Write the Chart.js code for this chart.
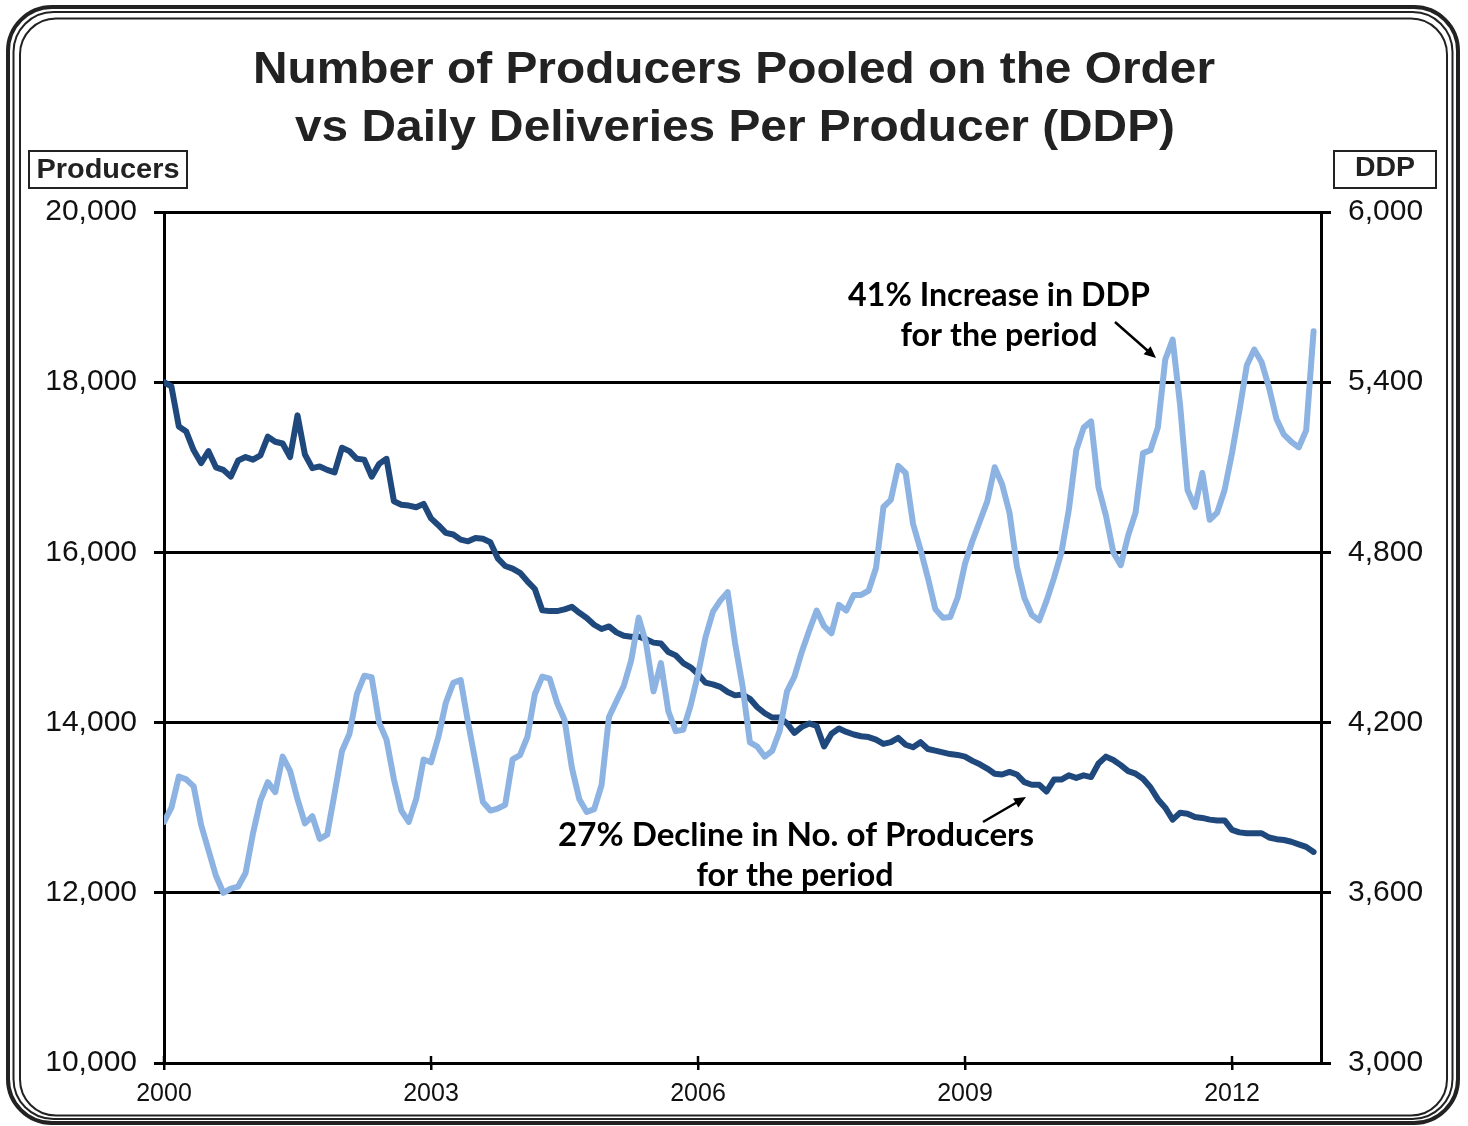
<!DOCTYPE html>
<html>
<head>
<meta charset="utf-8">
<script src="https://cdn.jsdelivr.net/npm/chart.js@4.4.1/dist/chart.umd.min.js"></script>
<style>
  html, body { margin: 0; padding: 0; background: #fff; }
  canvas { display: block; }
</style>
</head>
<body>
<canvas id="chart" width="1468" height="1126"></canvas>
<script>
// monthly values, Jan 2000 .. Dec 2012
const producers = [
  18000, 17950, 17480, 17420, 17200, 17050, 17190, 17000, 16970, 16890, 17080, 17120,
  17090, 17140, 17360, 17300, 17280, 17120, 17610, 17150, 16990, 17010, 16970, 16940,
  17230, 17190, 17100, 17090, 16890, 17040, 17100, 16600, 16560, 16550, 16530, 16570,
  16400, 16320, 16230, 16210, 16150, 16130, 16170, 16160, 16120, 15930, 15840, 15810,
  15760, 15660, 15570, 15320, 15310, 15310, 15330, 15360, 15290, 15230, 15150, 15100,
  15130, 15060, 15020, 15010, 15010, 14980, 14940, 14930, 14830, 14790, 14700, 14650,
  14570, 14470, 14450, 14420, 14360, 14320, 14330, 14280, 14180, 14110, 14060, 14060,
  13990, 13880, 13950, 13990, 13960, 13720, 13870, 13930, 13890, 13860, 13840, 13830,
  13800, 13750, 13770, 13820, 13740, 13710, 13770, 13690, 13670, 13650, 13630, 13620,
  13600, 13550, 13510, 13460, 13400, 13390, 13420, 13390, 13300, 13270, 13270, 13190,
  13330, 13330, 13380, 13350, 13380, 13360, 13520, 13600, 13560, 13500, 13430, 13400,
  13340, 13240, 13100, 13000, 12860, 12940, 12930, 12890, 12880, 12860, 12850, 12850,
  12740, 12710, 12700, 12700, 12700, 12650, 12630, 12620, 12600, 12570, 12540, 12480
];
const ddp = [
  3850, 3900, 4010, 4000, 3975, 3840, 3750, 3660, 3600, 3615, 3622, 3670,
  3810, 3925, 3990, 3955, 4080, 4030, 3930, 3845, 3870, 3790, 3805, 3950,
  4100, 4160, 4300, 4365, 4360, 4200, 4140, 4000, 3890, 3850, 3930, 4070,
  4060, 4150, 4270, 4340, 4350, 4200, 4060, 3920, 3890, 3897, 3910, 4070,
  4085, 4150, 4300, 4362, 4355, 4270, 4210, 4040, 3930, 3885, 3895, 3980,
  4220, 4275, 4330, 4420, 4570, 4480, 4310, 4410, 4240, 4170, 4175, 4260,
  4370, 4500, 4590, 4630, 4660, 4480, 4330, 4130, 4115, 4080, 4100, 4170,
  4310, 4362, 4450, 4525, 4595, 4540, 4515, 4615, 4595, 4650, 4650, 4665,
  4745, 4960, 4985, 5105, 5080, 4900, 4810, 4710, 4600, 4570, 4572, 4640,
  4760, 4840, 4910, 4980, 5100, 5040, 4940, 4750, 4640, 4580, 4560, 4630,
  4710, 4800, 4950, 5160, 5240, 5262, 5030, 4930, 4800, 4755, 4860, 4940,
  5150, 5160, 5240, 5480, 5550, 5320, 5020, 4960, 5080, 4915, 4940, 5020,
  5150, 5300, 5460, 5515, 5470, 5380, 5270, 5215, 5190, 5170, 5230, 5580
];
const yearLabels = ['2000', '2003', '2006', '2009', '2012'];
const yearTickMonths = [0, 36, 72, 108, 144];
const titleLines = ['Number of Producers Pooled on the Order', 'vs Daily Deliveries Per Producer (DDP)'];

const toPoints = arr => arr.map((v, i) => ({ x: i, y: v }));
const fmt = v => Number(v).toLocaleString('en-US');
const SANS = '"Liberation Sans", Arial, sans-serif';

function roundRect(ctx, x, y, w, h, r) {
  ctx.beginPath();
  ctx.moveTo(x + r, y);
  ctx.lineTo(x + w - r, y);
  ctx.arcTo(x + w, y, x + w, y + r, r);
  ctx.lineTo(x + w, y + h - r);
  ctx.arcTo(x + w, y + h, x + w - r, y + h, r);
  ctx.lineTo(x + r, y + h);
  ctx.arcTo(x, y + h, x, y + h - r, r);
  ctx.lineTo(x, y + r);
  ctx.arcTo(x, y, x + r, y, r);
  ctx.closePath();
  ctx.stroke();
}

// centred text stretched sideways to a target width (the original is wider than Arial)
function wideText(ctx, text, cx, cy, width) {
  const w = ctx.measureText(text).width;
  ctx.save();
  ctx.translate(cx, cy);
  ctx.scale(width / w, 1);
  ctx.fillText(text, 0, 0);
  ctx.restore();
}

function arrow(ctx, x1, y1, x2, y2) {
  const a = Math.atan2(y2 - y1, x2 - x1);
  ctx.strokeStyle = '#000';
  ctx.fillStyle = '#000';
  ctx.lineWidth = 2.5;
  ctx.beginPath();
  ctx.moveTo(x1, y1);
  ctx.lineTo(x2 - 8 * Math.cos(a), y2 - 8 * Math.sin(a));
  ctx.stroke();
  ctx.beginPath();
  ctx.moveTo(x2, y2);
  ctx.lineTo(x2 - 13 * Math.cos(a - 0.42), y2 - 13 * Math.sin(a - 0.42));
  ctx.lineTo(x2 - 13 * Math.cos(a + 0.42), y2 - 13 * Math.sin(a + 0.42));
  ctx.closePath();
  ctx.fill();
}

const decor = {
  id: 'decor',
  beforeDraw(chart) {
    const ctx = chart.ctx;
    ctx.save();
    ctx.fillStyle = '#fff';
    ctx.fillRect(0, 0, chart.width, chart.height);
    ctx.strokeStyle = '#222';
    ctx.lineWidth = 4;
    roundRect(ctx, 8, 7, 1450, 1116, 44);
    ctx.lineWidth = 2;
    roundRect(ctx, 13.5, 12, 1439, 1107, 40);
    ctx.lineWidth = 2;
    roundRect(ctx, 20, 18.5, 1427, 1097, 36);
    ctx.restore();
  },
  afterDraw(chart) {
    const ctx = chart.ctx;
    const x = chart.scales.x;
    const area = chart.chartArea;
    ctx.save();
    // x tick marks cross the axis
    ctx.strokeStyle = '#000';
    ctx.lineWidth = 2.5;
    yearTickMonths.forEach(m => {
      const px = x.getPixelForValue(m);
      ctx.beginPath();
      ctx.moveTo(px, area.bottom - 7);
      ctx.lineTo(px, area.bottom);
      ctx.stroke();
    });
    // title
    ctx.fillStyle = '#222';
    ctx.textAlign = 'center';
    ctx.textBaseline = 'middle';
    ctx.font = 'bold 45px ' + SANS;
    wideText(ctx, titleLines[0], 734, 71, 962);
    wideText(ctx, titleLines[1], 735, 129, 880);
    // axis name boxes
    ctx.font = 'bold 27px ' + SANS;
    ctx.lineWidth = 2;
    ctx.strokeStyle = '#222';
    ctx.strokeRect(29, 151, 158, 37);
    wideText(ctx, 'Producers', 108, 171, 143);
    ctx.strokeRect(1334, 151, 102, 37);
    wideText(ctx, 'DDP', 1385, 169, 60);
    // annotations
    ctx.fillStyle = '#000';
    let size = 28;
    ctx.font = 'bold ' + size + 'px Lato, "Open Sans", sans-serif';
    size = size * 302 / ctx.measureText('41% Increase in DDP').width;
    ctx.font = 'bold ' + size.toFixed(1) + 'px Lato, "Open Sans", sans-serif';
    ctx.fillText('41% Increase in DDP', 999, 296);
    ctx.fillText('for the period', 999, 336);
    wideText(ctx, '27% Decline in No. of Producers', 796, 836, 476);
    ctx.fillText('for the period', 795, 876);
    arrow(ctx, 1115, 322, 1156, 358);
    arrow(ctx, 983, 822, 1026, 797);
    ctx.restore();
  }
};

new Chart(document.getElementById('chart'), {
  type: 'line',
  data: {
    datasets: [
      {
        label: 'DDP',
        data: toPoints(ddp),
        yAxisID: 'y1',
        borderColor: '#8DB3E2',
        borderWidth: 6,
        borderJoinStyle: 'round',
        borderCapStyle: 'round',
        pointRadius: 0,
        tension: 0,
        fill: false
      },
      {
        label: 'Producers',
        data: toPoints(producers),
        yAxisID: 'y',
        borderColor: '#1F497D',
        borderWidth: 6,
        borderJoinStyle: 'round',
        borderCapStyle: 'round',
        pointRadius: 0,
        tension: 0,
        fill: false
      }
    ]
  },
  options: {
    responsive: false,
    animation: false,
    devicePixelRatio: 1,
    layout: { padding: { top: 212, left: 0, right: 0, bottom: 0 } },
    plugins: {
      legend: { display: false },
      tooltip: { enabled: false },
      title: { display: false }
    },
    scales: {
      x: {
        type: 'linear',
        min: 0,
        max: 156,
        afterBuildTicks: s => { s.ticks = yearTickMonths.map(v => ({ value: v })); },
        afterFit: s => { s.height = 63; },
        ticks: {
          autoSkip: false,
          maxRotation: 0,
          padding: 9,
          color: '#111',
          font: { family: SANS, size: 25 },
          callback: v => yearLabels[yearTickMonths.indexOf(v)]
        },
        grid: { drawOnChartArea: false, color: '#000', lineWidth: 2.5, tickLength: 7 },
        border: { color: '#000', width: 3 }
      },
      y: {
        position: 'left',
        min: 10000,
        max: 20000,
        afterFit: s => { s.width = 164; },
        ticks: {
          stepSize: 2000,
          padding: 17,
          color: '#111',
          font: { family: SANS, size: 30 },
          callback: v => fmt(v)
        },
        grid: { color: '#000', lineWidth: 3, tickLength: 10 },
        border: { color: '#000', width: 3 }
      },
      y1: {
        position: 'right',
        min: 3000,
        max: 6000,
        afterFit: s => { s.width = 147; },
        ticks: {
          stepSize: 600,
          padding: 17,
          color: '#111',
          font: { family: SANS, size: 30 },
          callback: v => fmt(v)
        },
        grid: { drawOnChartArea: false, color: '#000', lineWidth: 3, tickLength: 10 },
        border: { color: '#000', width: 3 }
      }
    }
  },
  plugins: [decor]
});
</script>
</body>
</html>
